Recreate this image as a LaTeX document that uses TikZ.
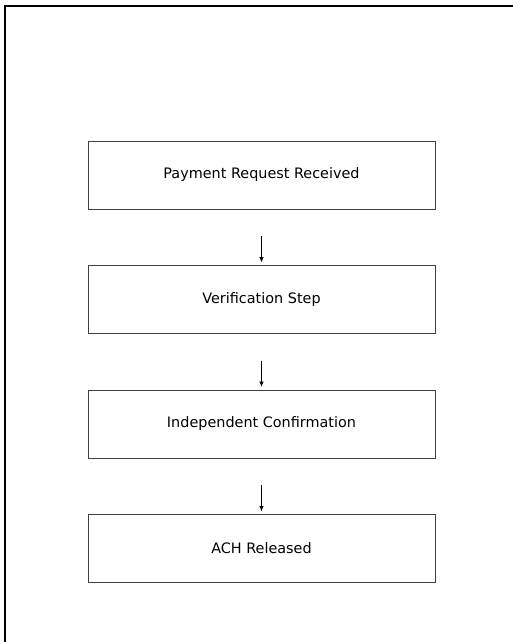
\documentclass[tikz,border=0pt]{standalone}
\usepackage{fontspec}
\setmainfont{DejaVu Sans}
\usetikzlibrary{arrows.meta,positioning}
\tikzset{
  stepbox/.style={draw=black!75, line width=0.8pt, fill=white,
    minimum width=347pt, minimum height=68pt, inner sep=0pt, outer sep=0pt,
    font=\fontsize{14.4}{17}\selectfont},
  flowarrow/.style={draw=black, line width=0.8pt,
    -{Latex[length=5.5pt,width=4.5pt]}},
  frameline/.style={draw=black, line width=2pt},
}

\begin{document}
\begin{tikzpicture}[x=1pt,y=1pt,node distance=56.5pt]
  \useasboundingbox (0,0) rectangle (513,-642);
  % outer frame (only top and left edge show on the page)
  \draw [frameline] (5,-650) -- (5,-6.5) -- (520,-6.5);

  % the four steps
  \node [stepbox] (request) at (261.5,-175) {Payment Request Received};
  \node [stepbox, below=of request] (verify) {Verification Step};
  \node [stepbox, below=of verify] (confirm) {Independent Confirmation};
  \node [stepbox, below=of confirm] (ach) {ACH Released};

  \draw [flowarrow] ([yshift=-27pt]request.south) -- ([yshift=3pt]verify.north);
  \draw [flowarrow] ([yshift=-27pt]verify.south) -- ([yshift=3pt]confirm.north);
  \draw [flowarrow] ([yshift=-27pt]confirm.south) -- ([yshift=3pt]ach.north);
\end{tikzpicture}
\end{document}
